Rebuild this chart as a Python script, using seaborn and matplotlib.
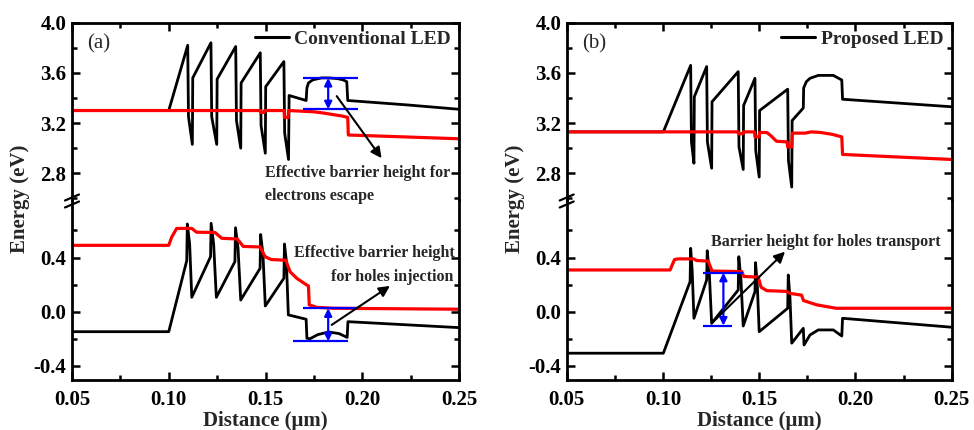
import matplotlib
matplotlib.use('Agg')
import matplotlib.pyplot as plt
import seaborn as sns
from matplotlib.ticker import MultipleLocator, FixedLocator, FormatStrFormatter
from matplotlib.lines import Line2D

# ---- (a) conventional LED ----
# conduction band (black) and electron quasi-Fermi level (red), eV vs um
conv_ec_x = [0.050, 0.100, 0.1098, 0.1102, 0.1122, 0.1124, 0.1218, 0.1222, 0.1248, 0.1250,
             0.1346, 0.1350, 0.1372, 0.1374, 0.1473, 0.1477, 0.1499, 0.1501, 0.1595, 0.1599,
             0.1619, 0.1622, 0.1710, 0.1714, 0.1722, 0.1745, 0.1790, 0.1825, 0.1870, 0.1900,
             0.1920, 0.1925, 0.2230, 0.250]
conv_ec_y = [3.30, 3.30, 3.82, 3.25, 3.03, 3.56, 3.84, 3.25, 3.03, 3.55,
             3.81, 3.22, 3.00, 3.52, 3.76, 3.18, 2.96, 3.49, 3.69, 3.12,
             2.91, 3.42, 3.38, 3.48, 3.52, 3.545, 3.56, 3.56, 3.555, 3.545,
             3.53, 3.38, 3.345, 3.31]
conv_efn_x = [0.050, 0.1474, 0.1476, 0.1493, 0.1495, 0.1596, 0.1598, 0.1617, 0.1619, 0.1750,
              0.1800, 0.1860, 0.1900, 0.1925, 0.1928, 0.250]
conv_efn_y = [3.30, 3.30, 3.285, 3.285, 3.30, 3.30, 3.245, 3.245, 3.30, 3.29,
              3.28, 3.265, 3.255, 3.245, 3.105, 3.075]
# valence band (black) and hole quasi-Fermi level (red)
conv_ev_x = [0.050, 0.100, 0.1093, 0.1096, 0.1108, 0.1119, 0.1216, 0.1219, 0.1232, 0.1246,
             0.1342, 0.1345, 0.1358, 0.1372, 0.1472, 0.1475, 0.1487, 0.1499, 0.1595, 0.1598,
             0.1608, 0.1618, 0.1710, 0.1714, 0.1730, 0.1770, 0.1826, 0.1880, 0.1922, 0.1926,
             0.250]
conv_ev_y = [-0.148, -0.148, 0.377, 0.648, 0.50, 0.106, 0.406, 0.653, 0.50, 0.106,
             0.37, 0.62, 0.47, 0.086, 0.32, 0.57, 0.42, 0.042, 0.247, 0.50,
             0.37, -0.024, -0.056, -0.197, -0.200, -0.170, -0.150, -0.162, -0.190, -0.074,
             -0.118]
conv_efp_x = [0.050, 0.1000, 0.1015, 0.1041, 0.1119, 0.1144, 0.1239, 0.1274, 0.1354, 0.1385,
              0.1472, 0.1498, 0.1530, 0.1605, 0.1627, 0.1661, 0.1713, 0.1722, 0.1726, 0.1765,
              0.1850, 0.250]
conv_efp_y = [0.49, 0.49, 0.55, 0.615, 0.615, 0.587, 0.585, 0.542, 0.537, 0.482,
              0.478, 0.406, 0.385, 0.38, 0.295, 0.247, 0.197, 0.19, 0.05, 0.032,
              0.025, 0.018]

# ---- (b) proposed LED ----
prop_ec_x = [0.050, 0.1002, 0.1144, 0.1148, 0.1161, 0.1163, 0.1227, 0.1231, 0.1253, 0.1255,
             0.1391, 0.1395, 0.1417, 0.1419, 0.1478, 0.1482, 0.1500, 0.1502, 0.1648, 0.1652,
             0.1669, 0.1671, 0.1729, 0.1731, 0.1745, 0.1764, 0.1807, 0.1885, 0.1929, 0.1933,
             0.250]
prop_ec_y = [3.13, 3.13, 3.66, 3.05, 2.88, 3.41, 3.65, 3.05, 2.84, 3.37,
             3.61, 3.01, 2.83, 3.34, 3.557, 2.98, 2.77, 3.30, 3.47, 2.90,
             2.69, 3.22, 3.32, 3.48, 3.53, 3.557, 3.58, 3.58, 3.543, 3.39,
             3.33]
prop_efn_x = [0.050, 0.1390, 0.1393, 0.1415, 0.1418, 0.1476, 0.1478, 0.1500, 0.1502, 0.1540,
              0.1560, 0.1590, 0.1645, 0.1648, 0.1669, 0.1672, 0.1740, 0.1770, 0.1820, 0.1880,
              0.1929, 0.1933, 0.250]
prop_efn_y = [3.13, 3.13, 3.115, 3.115, 3.13, 3.13, 3.09, 3.09, 3.125, 3.125,
              3.10, 3.055, 3.05, 3.01, 3.01, 3.12, 3.12, 3.13, 3.125, 3.11,
              3.09, 2.95, 2.91]
prop_ev_x = [0.050, 0.1002, 0.1141, 0.1144, 0.1152, 0.1161, 0.1227, 0.1230, 0.1241, 0.1253,
             0.1391, 0.1394, 0.1405, 0.1417, 0.1478, 0.1481, 0.1490, 0.1500, 0.1648, 0.1651,
             0.1660, 0.1669, 0.1729, 0.1733, 0.1764, 0.1807, 0.1885, 0.1929, 0.1933, 0.250]
prop_ev_y = [-0.307, -0.307, 0.222, 0.468, 0.30, -0.049, 0.234, 0.45, 0.28, -0.086,
             0.16, 0.406, 0.24, -0.106, 0.148, 0.362, 0.20, -0.148, 0.025, 0.271,
             0.10, -0.233, -0.123, -0.246, -0.172, -0.135, -0.135, -0.180, -0.049, -0.115]
prop_efp_x = [0.050, 0.1037, 0.1060, 0.1080, 0.1159, 0.1175, 0.1235, 0.1255, 0.1410, 0.1420,
              0.1495, 0.1510, 0.1540, 0.1640, 0.1660, 0.1720, 0.1730, 0.1800, 0.1900, 0.250]
prop_efp_y = [0.308, 0.308, 0.385, 0.39, 0.39, 0.378, 0.373, 0.30, 0.296, 0.26,
              0.255, 0.18, 0.155, 0.15, 0.135, 0.122, 0.082, 0.05, 0.025, 0.025]

# blue barrier markers: (y, xmin, xmax) and arrow x
conv_eb_lines = [(3.56, 0.1694, 0.1979), (3.31, 0.1694, 0.1979)]
conv_eb_arrow_x = 0.1824
conv_hb_lines = [(0.025, 0.1695, 0.1979), (-0.22, 0.1644, 0.1928)]
conv_hb_arrow_x = 0.1824
prop_hb_lines = [(0.288, 0.1210, 0.1417), (-0.103, 0.1210, 0.1357)]
prop_hb_arrow_x = 0.1314

sns.set_theme(style='ticks')
plt.rcParams['font.family'] = ['Liberation Serif', 'DejaVu Serif']
plt.rcParams['font.weight'] = 'bold'
plt.rcParams['axes.labelweight'] = 'bold'

W, H = 974, 430
fig = plt.figure(figsize=(9.74, 4.3), dpi=100)
fig.patch.set_facecolor('white')

up_rect = (1 - 200 / H, (200 - 22.7) / H)
lo_rect = (1 - 380 / H, 180 / H)


def style_axes(ax):
    ax.patch.set_alpha(0)
    for s in ax.spines.values():
        s.set_linewidth(2)
        s.set_color('black')
    ax.tick_params(which='both', direction='in', width=1.8, colors='black',
                   labelsize=15, left=True, right=True)
    ax.tick_params(which='major', length=6)
    ax.tick_params(which='minor', length=3.5)
    ax.xaxis.set_major_locator(MultipleLocator(0.05))
    ax.xaxis.set_minor_locator(MultipleLocator(0.025))
    ax.xaxis.set_major_formatter(FormatStrFormatter('%.2f'))
    ax.yaxis.set_major_formatter(FormatStrFormatter('%.1f'))
    ax.set_xlim(0.05, 0.25)
    ax.set_ylabel('')
    ax.tick_params(axis='y', pad=4)
    for t in ax.get_xticklabels() + ax.get_yticklabels():
        t.set_fontweight('bold')


def panel(left_px, right_px, ec, efn, ev, efp, label):
    left = left_px / W
    width = (right_px - left_px) / W
    up = fig.add_axes([left, up_rect[0], width, up_rect[1]])
    lo = fig.add_axes([left, lo_rect[0], width, lo_rect[1]])

    sns.lineplot(x=ec[0], y=ec[1], sort=False, estimator=None, color='black', lw=2,
                 ax=up, label=label)
    sns.lineplot(x=efn[0], y=efn[1], sort=False, estimator=None, color='#ff0000', lw=2.3, ax=up)
    sns.lineplot(x=ev[0], y=ev[1], sort=False, estimator=None, color='black', lw=2, ax=lo)
    sns.lineplot(x=efp[0], y=efp[1], sort=False, estimator=None, color='#ff0000', lw=2.3, ax=lo)

    for ax in (up, lo):
        style_axes(ax)
    up.set_ylim(2.587, 4.0)
    up.yaxis.set_major_locator(FixedLocator([2.8, 3.2, 3.6, 4.0]))
    up.yaxis.set_minor_locator(FixedLocator([2.6, 3.0, 3.4, 3.8]))
    up.spines['bottom'].set_visible(False)
    up.tick_params(axis='x', which='both', bottom=False, labelbottom=False, top=True)
    up.set_xlabel('')

    lo.set_ylim(-0.505, 0.825)
    lo.yaxis.set_major_locator(FixedLocator([-0.4, 0.0, 0.4]))
    lo.yaxis.set_minor_locator(FixedLocator([-0.2, 0.2, 0.6]))
    lo.spines['top'].set_visible(False)
    lo.tick_params(axis='x', which='both', top=False, bottom=True, pad=7)
    lo.set_xlabel('Distance (\u03bcm)', fontsize=15, fontweight='bold', labelpad=1)

    leg = up.legend(loc='upper right', frameon=False, handlelength=1.75, handletextpad=0.3,
                    borderaxespad=0.1, borderpad=0.3, prop={'size': 14, 'weight': 'bold'})
    for h in leg.get_lines():
        h.set_linewidth(2.2)

    # y label and axis break marks
    fig.text((left_px - 52) / W, 1 - 199 / H, 'Energy (eV)', rotation=90, fontsize=15,
             fontweight='bold', ha='center', va='center')
    for dy in (-3.5, 3.5):
        yc = 201 + dy
        fig.add_artist(Line2D([(left_px - 7) / W, (left_px + 7) / W],
                              [1 - (yc + 3) / H, 1 - (yc - 3) / H],
                              transform=fig.transFigure, color='black', lw=1.6))
    return up, lo


def barrier(ax, lines, ax_x):
    for y, x0, x1 in lines:
        ax.hlines(y, x0, x1, color='blue', lw=1.6)
    ax.annotate('', xy=(ax_x, lines[0][0]), xytext=(ax_x, lines[1][0]),
                arrowprops=dict(arrowstyle='<|-|>', color='blue', lw=1.6,
                                mutation_scale=11, shrinkA=0, shrinkB=0))


def pointer(ax, tail, head):
    ax.annotate('', xy=head, xytext=tail,
                arrowprops=dict(arrowstyle='-|>', color='black', lw=1.5,
                                mutation_scale=16, shrinkA=0, shrinkB=0))


a_up, a_lo = panel(72, 459, (conv_ec_x, conv_ec_y), (conv_efn_x, conv_efn_y),
                   (conv_ev_x, conv_ev_y), (conv_efp_x, conv_efp_y), 'Conventional LED')
b_up, b_lo = panel(566.7, 951.7, (prop_ec_x, prop_ec_y), (prop_efn_x, prop_efn_y),
                   (prop_ev_x, prop_ev_y), (prop_efp_x, prop_efp_y), 'Proposed LED')

a_up.text(0.058, 3.83, '(a)', fontsize=15, fontweight='normal', va='center', ha='left')
b_up.text(0.058, 3.83, '(b)', fontsize=15, fontweight='normal', va='center', ha='left')

barrier(a_up, conv_eb_lines, conv_eb_arrow_x)
barrier(a_lo, conv_hb_lines, conv_hb_arrow_x)
barrier(b_lo, prop_hb_lines, prop_hb_arrow_x)

pointer(a_up, (0.1868, 3.415), (0.2100, 2.92))
pointer(a_lo, (0.1842, -0.098), (0.2143, 0.19))
pointer(b_lo, (0.1253, -0.086), (0.1634, 0.443))

a_up.text(0.1497, 2.803, 'Effective barrier height for', fontsize=11.5, va='center', ha='left')
a_up.text(0.1497, 2.617, 'electrons escape', fontsize=11.5, va='center', ha='left',
          clip_on=False, zorder=10)
a_lo.text(0.2479, 0.431, 'Effective barrier height', fontsize=11.5, va='center', ha='right')
a_lo.text(0.2470, 0.254, 'for holes injection', fontsize=11.5, va='center', ha='right')
b_lo.text(0.1846, 0.517, 'Barrier height for holes transport', fontsize=11.5,
          va='center', ha='center')

fig.savefig('out.png', dpi=100, facecolor='white')
